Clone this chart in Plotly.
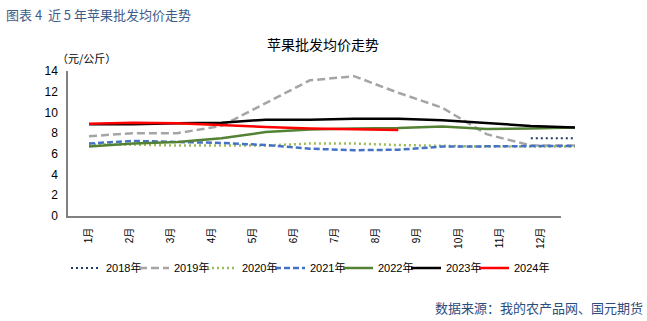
import plotly.graph_objects as go

months = ["1月", "2月", "3月", "4月", "5月", "6月", "7月", "8月", "9月", "10月", "11月", "12月"]
month_idx = list(range(12))

y2018 = [None, None, None, None, None, None, None, None, None, None, 7.5, 7.5]
y2019 = [7.7, 8.0, 8.0, 8.7, 10.9, 13.1, 13.5, 11.9, 10.45, 7.9, 6.8, 6.8]
y2020 = [6.9, 6.9, 6.8, 6.8, 6.8, 7.0, 7.0, 6.85, 6.75, 6.7, 6.7, 6.7]
y2021 = [7.0, 7.25, 7.15, 7.05, 6.85, 6.5, 6.35, 6.4, 6.7, 6.75, 6.75, 6.75]
y2022 = [6.7, 7.0, 7.15, 7.5, 8.1, 8.35, 8.45, 8.5, 8.65, 8.4, 8.45, 8.55]
y2023 = [8.85, 8.85, 8.95, 9.0, 9.3, 9.3, 9.4, 9.4, 9.25, 8.95, 8.7, 8.55]
y2024 = [8.9, 9.0, 8.95, 8.75, 8.6, 8.45, 8.35, 8.3]

series = [
    ("2018年", y2018, "#1F3864", "2px,3px", 2),
    ("2019年", y2019, "#A5A5A5", "8px,4px", 2.5),
    ("2020年", y2020, "#9BBB59", "2px,3px", 2.5),
    ("2021年", y2021, "#4472C4", "6px,3px", 2.5),
    ("2022年", y2022, "#548235", "solid", 2.5),
    ("2023年", y2023, "#000000", "solid", 2.5),
    ("2024年", y2024, "#FF0000", "solid", 2.5),
]

W, H = 647, 321
L, R_axis, R_paper, T, B = 68, 561, 590, 71, 216
pw = R_paper - L
ph = B - T
x0_px, step_px = 89, 44.18


def px(xp):
    return (xp - L) / pw


def py(yp):
    return (B - yp) / ph


fig = go.Figure()
# invisible category trace to establish the month axis
fig.add_trace(go.Scatter(x=months, y=[None] * 12, xaxis="x", yaxis="y",
                         showlegend=False, hoverinfo="skip"))
for name, vals, color, dash, w in series:
    fig.add_trace(go.Scatter(
        x=month_idx[:len(vals)], y=vals, name=name, mode="lines",
        xaxis="x2", yaxis="y",
        line=dict(color=color, width=w, dash=dash),
    ))
# blank trailing legend entry so the last legend label is not clipped
fig.add_trace(go.Scatter(x=[None], y=[None], name=" ", mode="lines",
                         xaxis="x2", yaxis="y", line=dict(width=0, color="white"),
                         hoverinfo="skip"))

axis_col = "#808080"
fig.update_layout(
    width=W, height=H,
    margin=dict(l=L, r=W - R_paper, t=T, b=H - B),
    paper_bgcolor="white", plot_bgcolor="white",
    font=dict(family="Liberation Sans, Noto Sans CJK SC", color="#000000"),
    showlegend=True,
    xaxis=dict(
        type="category", domain=[0, (R_axis - L) / pw], range=[-0.5, 11.5],
        showline=True, linecolor=axis_col, linewidth=1.5,
        ticks="inside", tickson="boundaries", ticklen=5, tickcolor=axis_col,
        showgrid=False, zeroline=False, tickangle=-90,
        tickfont=dict(size=10, family="Liberation Sans, Noto Sans CJK SC"),
        ticklabelstandoff=6,
        anchor="y",
    ),
    xaxis2=dict(
        domain=[0, 1], range=[(L - x0_px) / step_px, (R_paper - x0_px) / step_px],
        visible=False, anchor="y", showgrid=False, zeroline=False,
    ),
    yaxis=dict(
        range=[0, 14], dtick=2, showline=True, linecolor=axis_col, linewidth=1.5,
        ticks="inside", ticklen=4, tickcolor=axis_col, showgrid=False,
        zeroline=False, tickfont=dict(size=12), ticklabelstandoff=6,
        anchor="x",
    ),
    legend=dict(
        orientation="h", x=px(66), xanchor="left", y=py(268), yanchor="middle",
        font=dict(size=11, family="Liberation Sans, Noto Sans CJK SC"),
        entrywidth=23, entrywidthmode="pixels", bgcolor="rgba(0,0,0,0)",
        itemwidth=30,
    ),
    annotations=[
        dict(text="图表 4  近 5 年苹果批发均价走势", xref="paper", yref="paper",
             x=px(4), y=py(14), xanchor="left", yanchor="middle", showarrow=False,
             font=dict(size=13, color="#3E5C8A", family="Noto Sans CJK SC")),
        dict(text="苹果批发均价走势", xref="paper", yref="paper",
             x=px(323), y=py(44), xanchor="center", yanchor="middle", showarrow=False,
             font=dict(size=14, color="#000000", family="Noto Sans CJK SC")),
        dict(text="（元/公斤）", xref="paper", yref="paper",
             x=px(86), y=py(58), xanchor="center", yanchor="middle", showarrow=False,
             font=dict(size=11, color="#000000", family="Noto Sans CJK SC")),
        dict(text="数据来源：我的农产品网、国元期货", xref="paper", yref="paper",
             x=px(645), y=py(307), xanchor="right", yanchor="middle", showarrow=False,
             font=dict(size=13, color="#2B4C7E", family="Noto Sans CJK SC")),
    ],
)

fig.write_html("out.html")
